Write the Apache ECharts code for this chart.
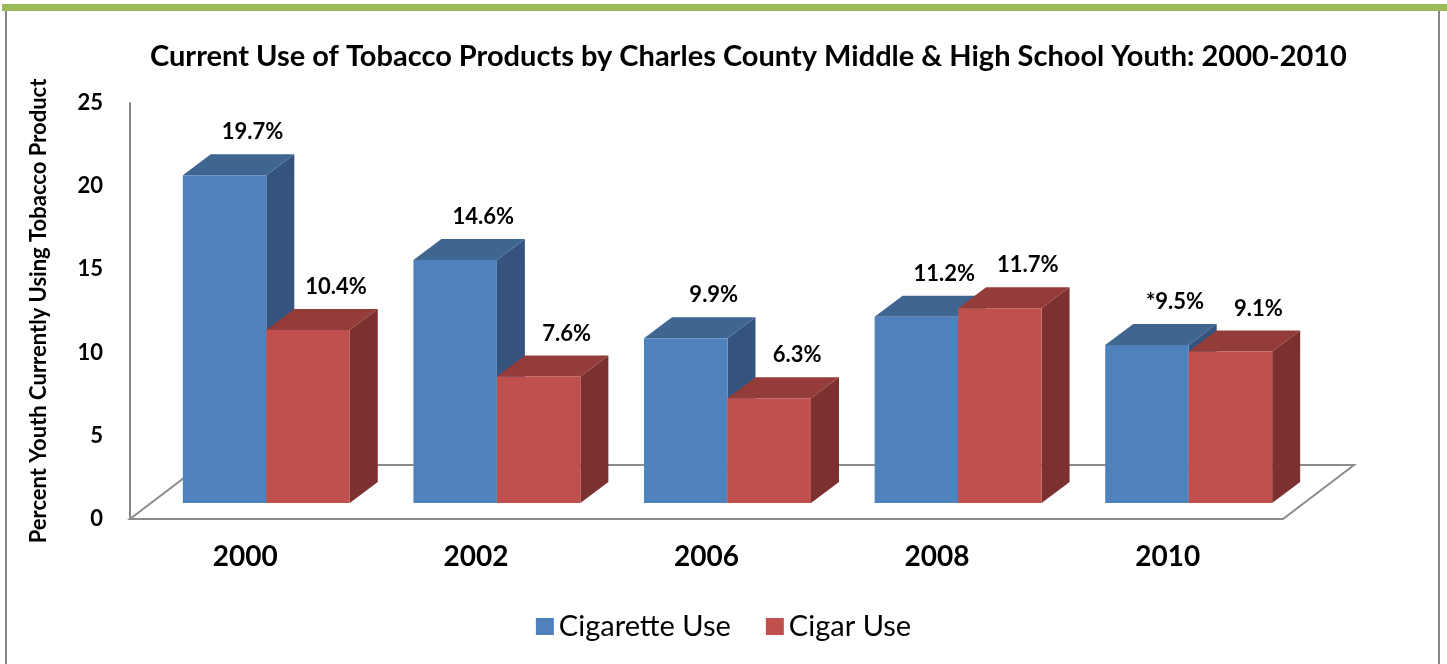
<!DOCTYPE html>
<html><head><meta charset="utf-8">
<script src="https://cdn.jsdelivr.net/npm/echarts@6/dist/echarts.min.js"></script>
<style>html,body{margin:0;padding:0;background:#fff}#c{width:1447px;height:664px}</style>
</head><body><div id="c"></div>
<script>
const categories = ['2000', '2002', '2006', '2008', '2010'];
const cigaretteUse = [19.7, 14.6, 9.9, 11.2, 9.5];
const cigarUse = [10.4, 7.6, 6.3, 11.7, 9.1];
const cigaretteNotes = ['', '', '', '', '*'];
const cigarNotes = ['', '', '', '', ''];
const seriesNames = ['Cigarette Use', 'Cigar Use'];
const yMin = 0, yMax = 25, yStep = 5;

const FONT = 'Lato, "Open Sans", sans-serif';
const BLUE = { front: '#4F81BD', top: '#3F6591', side: '#34547E' };
const RED = { front: '#C0504D', top: '#933C3A', side: '#7C302F' };
const FRONT_OFF = [21, -16];
const BAR_DEPTH = [28, -21];
const FLOOR_DEPTH = [71, -54];
const BAR_FRAC = 0.362;

function barGeom(seriesIdx, i, v, api) {
  const base = api.coord([i, 0]);
  const top = api.coord([i, v]);
  const band = api.size([1, 0])[0];
  const w = band * BAR_FRAC;
  const x0 = base[0] + FRONT_OFF[0] + (seriesIdx === 0 ? -w : 0);
  return { x0: x0, x1: x0 + w, yb: base[1] + FRONT_OFF[1], yt: top[1] + FRONT_OFF[1] };
}

function barRenderer(seriesIdx, faces) {
  return function (params, api) {
    const i = api.value(0), v = api.value(1);
    const g = barGeom(seriesIdx, i, v, api);
    const dx = BAR_DEPTH[0], dy = BAR_DEPTH[1];
    return {
      type: 'group', children: [
        { type: 'polygon', shape: { points: [[g.x1, g.yb], [g.x1 + dx, g.yb + dy], [g.x1 + dx, g.yt + dy], [g.x1, g.yt]] }, style: { fill: faces.side } },
        { type: 'polygon', shape: { points: [[g.x0, g.yt], [g.x1, g.yt], [g.x1 + dx, g.yt + dy], [g.x0 + dx, g.yt + dy]] }, style: { fill: faces.top } },
        { type: 'rect', shape: { x: g.x0, y: g.yt, width: g.x1 - g.x0, height: g.yb - g.yt }, style: { fill: faces.front } }
      ]
    };
  };
}

function labelRenderer(seriesIdx, notes) {
  return function (params, api) {
    const i = api.value(0), v = api.value(1);
    const g = barGeom(seriesIdx, i, v, api);
    return {
      type: 'text',
      x: (g.x0 + g.x1) / 2 + BAR_DEPTH[0],
      y: g.yt + BAR_DEPTH[1] - 22,
      style: {
        text: notes[i] + v.toFixed(1) + '%',
        fill: '#000', font: 'bold 22px ' + FONT,
        align: 'center', verticalAlign: 'middle'
      }
    };
  };
}

function floorRenderer(params, api) {
  const cs = params.coordSys;
  const yb = cs.y + cs.height;
  const x0 = cs.x, x1 = cs.x + cs.width;
  const dx = FLOOR_DEPTH[0], dy = FLOOR_DEPTH[1];
  return {
    type: 'polygon',
    shape: { points: [[x0, yb], [x1, yb], [x1 + dx, yb + dy], [x0 + dx, yb + dy]] },
    style: { fill: '#fff', stroke: '#8C8C8C', lineWidth: 2 }
  };
}

const chart = echarts.init(document.getElementById('c'));
chart.setOption({
  backgroundColor: '#fff',
  animation: false,
  title: {
    text: 'Current Use of Tobacco Products by Charles County Middle & High School Youth: 2000-2010',
    left: 145, top: 37,
    textStyle: { fontFamily: FONT, fontWeight: 'bold', fontSize: 29, color: '#000' }
  },
  legend: {
    data: seriesNames,
    left: 'center', top: 607,
    icon: 'rect', itemWidth: 18, itemHeight: 17, itemGap: 35,
    textStyle: { fontFamily: FONT, fontSize: 29, color: '#000' }
  },
  grid: { left: 130, right: 164, top: 103, bottom: 145 },
  xAxis: {
    type: 'category', data: categories,
    axisLine: { show: false }, axisTick: { show: false },
    axisLabel: { margin: 24, fontFamily: FONT, fontWeight: 'bold', fontSize: 28, color: '#000' }
  },
  yAxis: {
    type: 'value', min: yMin, max: yMax, interval: yStep,
    name: 'Percent Youth Currently Using Tobacco Product',
    nameLocation: 'middle', nameGap: 80,
    nameTextStyle: { fontFamily: FONT, fontWeight: 'bold', fontSize: 22, color: '#000' },
    axisLine: { show: true, lineStyle: { color: '#868686', width: 2 } },
    axisTick: { show: false },
    splitLine: { show: false },
    axisLabel: { margin: 27, fontFamily: FONT, fontWeight: 'bold', fontSize: 22, color: '#000' }
  },
  graphic: [
    { type: 'rect', shape: { x: 2, y: 4, width: 1445, height: 7 }, style: { fill: '#9BBB59' }, silent: true },
    { type: 'rect', shape: { x: 5, y: 11, width: 2, height: 653 }, style: { fill: '#868686' }, silent: true },
    { type: 'rect', shape: { x: 1438, y: 11, width: 2, height: 653 }, style: { fill: '#868686' }, silent: true }
  ],
  series: [
    { type: 'custom', name: 'floor', silent: true, z: 1, renderItem: floorRenderer, data: [[0, 0]] },
    { type: 'custom', name: seriesNames[0], z: 2, itemStyle: { color: BLUE.front },
      renderItem: barRenderer(0, BLUE), data: cigaretteUse.map((v, i) => [i, v]) },
    { type: 'custom', name: seriesNames[1], z: 2, itemStyle: { color: RED.front },
      renderItem: barRenderer(1, RED), data: cigarUse.map((v, i) => [i, v]) },
    { type: 'custom', name: 'labels-cig', silent: true, z: 5,
      renderItem: labelRenderer(0, cigaretteNotes), data: cigaretteUse.map((v, i) => [i, v]) },
    { type: 'custom', name: 'labels-cigar', silent: true, z: 5,
      renderItem: labelRenderer(1, cigarNotes), data: cigarUse.map((v, i) => [i, v]) }
  ]
});
</script></body></html>
